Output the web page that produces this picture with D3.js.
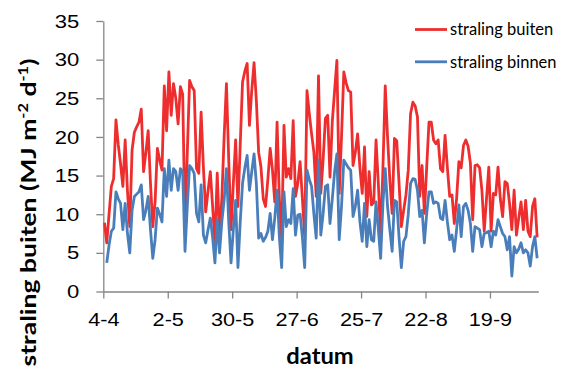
<!DOCTYPE html>
<html>
<head>
<meta charset="utf-8">
<script src="https://cdn.jsdelivr.net/npm/d3@7"></script>
<style>
  html, body { margin: 0; padding: 0; background: #fff; }
  svg { display: block; font-family: Lato, "Open Sans", sans-serif; }
</style>
</head>
<body>
<svg id="chart" width="568" height="370"></svg>
<script>
// ---- data ----
const startLabel = "4-4";
const year = 2013;
const tickLabels = ["4-4", "2-5", "30-5", "27-6", "25-7", "22-8", "19-9"];
const yTicks = [0, 5, 10, 15, 20, 25, 30, 35];
const seriesNames = ["straling buiten", "straling binnen"];
// daily values from 4-4 onwards (MJ m-2 d-1)
const stralingBuiten = [
  8.9, 6.3, 10, 13.6, 14.6, 22.2, 19, 16.5, 13.6, 19.6,
  13, 8.4, 18.3, 20.6, 21.3, 21.9, 23.6, 15.5, 18, 20.8,
  14, 8.4, 11.6, 18.5, 17, 15.7, 26.6, 20.8, 28.4, 22.8,
  26.9, 25, 21.7, 26.5, 25.5, 8.4, 18, 27.3, 26.5, 26,
  15.9, 15.3, 23.2, 16, 10.3, 13, 15.5, 11, 6.3, 15.3,
  7.1, 12, 20, 26.9, 17, 8.0, 14, 19.6, 11.0, 19,
  27.1, 28.5, 29.5, 21.5, 26, 29.6, 24.7, 18, 16.1, 12,
  11, 14.5, 18.5, 15.7, 11.6, 21.9, 12, 6.7, 21.5, 14.8,
  15.9, 14.6, 22.1, 12.3, 14, 16.8, 12, 7.1, 26, 23,
  20.4, 18, 12.3, 27.9, 12.7, 17, 22.4, 22.8, 14.8, 22,
  26, 29.9, 12.7, 20, 28.4, 27, 26, 25.8, 16.3, 18,
  20.4, 16, 12.7, 18.7, 9.7, 15.5, 11.2, 11.5, 19.6, 14,
  7.1, 16, 26.6, 20, 14.4, 10.1, 19.8, 19.5, 14, 8.4,
  10.5, 12.5, 15.7, 23, 24.5, 24, 22.6, 12.3, 16.3, 10.1,
  16, 21.9, 21.9, 19.6, 19.1, 19.6, 15.9, 15.5, 20.2, 16,
  12.3, 12.5, 8.8, 12, 16.8, 16, 18.9, 19.6, 18.8, 16.6,
  9.3, 16.3, 16.4, 16, 13.1, 7.8, 12, 16.1, 7.8, 12.7,
  12.5, 16.1, 12, 9.7, 14.2, 14, 11.4, 8, 13.1, 7.3,
  9.5, 11.6, 8, 11.8, 7.8, 7.1, 11, 12, 7
];
const stralingBinnen = [
  null, 3.7, 6, 7.8, 8.2, 12.9, 12, 11.4, 8.0, 11.4,
  7.5, 5.0, 10.5, 12.3, 12.6, 12.9, 13.8, 9.3, 10.5, 12.3,
  8, 4.3, 6.7, 10.8, 10, 9.0, 15.9, 12.3, 17.0, 13.1,
  15.9, 15.5, 13.1, 15.9, 15.5, 5.2, 11, 16.3, 15.9, 15.3,
  10.1, 9.0, 13.8, 7.3, 6.3, 8, 9.5, 7, 3.7, 9.3,
  5.0, 9, 11.8, 15.9, 9, 3.7, 8, 11.8, 3.1, 9,
  14.0, 16, 17.6, 13.1, 15.5, 17.8, 14.0, 6.9, 7.5, 6.5,
  7, 7.8, 10.1, 6.7, 9.5, 13.1, 7, 3.1, 12.9, 8.4,
  9.3, 8.8, 13.3, 7.3, 9.9, 10.0, 7, 3.1, 15.7, 14.5,
  13.6, 10, 6.9, 17.0, 7.3, 10, 13.6, 13.8, 8.8, 12,
  15.5, 17.8, 6.7, 11, 17.0, 16.5, 16, 15.7, 9.7, 11,
  13.1, 9, 6.5, 11.4, 5.8, 9.3, 6.7, 6.5, 11.6, 8,
  4.3, 11.4, 15.9, 11, 8, 5.2, 11.8, 11.6, 7, 3.1,
  6.5, 7.1, 10, 14, 14.6, 14.5, 13.1, 9.7, 10.5, 6.3,
  10, 12.9, 12.9, 11.4, 11.6, 11.4, 9.5, 9.3, 11.8, 9,
  6.7, 7.3, 5.2, 8, 11.2, 7.1, 11.0, 11.4, 10.5, 8.8,
  5.2, 8.4, 8.2, 8.0, 5.8, 7.5, 7.6, 7.8, 5.8, 7.8,
  7.3, 9.3, 8.4, 7.5, 7.1, 5.4, 7.1, 2.0, 5.8, 5.0,
  5.5, 6.3, 5.0, 5.4, 5, 3.3, 5.8, 7.1, 4.3
];

// ---- layout ----
const svg = d3.select("#chart");
const mLeft = 103.3, mRight = 538.3, mTop = 21, mBottom = 291.5;
const parse = d3.utcParse("%d-%m-%Y");
const start = parse(startLabel + "-" + year);
const nDays = stralingBuiten.length;
const dates = d3.range(nDays).map(i => d3.utcDay.offset(start, i));
const tickDates = tickLabels.map(t => parse(t + "-" + year));

const x = d3.scaleUtc().domain([start, d3.utcDay.offset(start, nDays)]).range([mLeft, mRight]);
const y = d3.scaleLinear().domain([0, 35]).range([mBottom, mTop]);
const xMid = d => x(d3.utcHour.offset(d, 12));

const axisColor = "#868686";
const colors = ["#ee2e2e", "#4a7ebb"];

// y axis
const gy = svg.append("g").attr("transform", `translate(${mLeft},0)`)
  .call(d3.axisLeft(y).tickValues(yTicks).tickSize(7).tickPadding(17).tickSizeOuter(0));
gy.select(".domain").attr("stroke", axisColor).attr("stroke-width", 1.3);
gy.selectAll(".tick line").attr("stroke", axisColor).attr("stroke-width", 1.3);
gy.selectAll(".tick text").attr("font-size", 19).attr("fill", "#000")
  .attr("x", 0).attr("transform", "translate(-24,0) scale(1.16,1)");

// x axis
const gx = svg.append("g").attr("transform", `translate(0,${mBottom})`)
  .call(d3.axisBottom(x).tickValues(tickDates).tickFormat((d, i) => tickLabels[i]).tickSize(7).tickPadding(14).tickSizeOuter(0));
gx.select(".domain").attr("stroke", axisColor).attr("stroke-width", 1.3);
gx.selectAll(".tick line").attr("stroke", axisColor).attr("stroke-width", 1.3);
gx.selectAll(".tick text").attr("font-size", 19).attr("fill", "#000")
  .attr("transform", "scale(1.14,1)");

// lines
const series = [stralingBuiten, stralingBinnen];
series.forEach((vals, k) => {
  const line = d3.line()
    .defined((v) => v !== null)
    .x((v, i) => xMid(dates[i]))
    .y(v => y(v));
  svg.append("path")
    .datum(vals)
    .attr("fill", "none")
    .attr("stroke", colors[k])
    .attr("stroke-width", 2.8)
    .attr("stroke-linejoin", "round")
    .attr("d", line);
});

// legend
const legend = svg.append("g").attr("transform", "translate(415,29.5)");
seriesNames.forEach((name, k) => {
  const g = legend.append("g").attr("transform", `translate(0,${k * 32.3})`);
  g.append("line").attr("x1", 0).attr("x2", 32).attr("y1", 0).attr("y2", 0)
    .attr("stroke", colors[k]).attr("stroke-width", 2.8);
  g.append("text").attr("x", 35).attr("y", 0).attr("dy", "0.35em")
    .attr("font-size", 16.5).attr("fill", "#000").text(name);
});

// axis titles
svg.append("text")
  .attr("transform", "translate(320,364) scale(1.08,1)")
  .attr("text-anchor", "middle")
  .attr("font-size", 22).attr("font-weight", "bold")
  .text("datum");

const yt = svg.append("text")
  .attr("text-anchor", "middle")
  .attr("font-size", 21).attr("font-weight", "bold");
yt.append("tspan").text("straling buiten (MJ m");
yt.append("tspan").attr("font-size", 13).attr("baseline-shift", "super").text("-2");
yt.append("tspan").text(" d");
yt.append("tspan").attr("font-size", 13).attr("baseline-shift", "super").text("-1");
yt.append("tspan").text(")");
const titleLen = yt.node().getComputedTextLength() || 300;
yt.attr("transform", `translate(36,212.5) rotate(-90) scale(${308 / titleLen},1)`);
</script>
</body>
</html>
